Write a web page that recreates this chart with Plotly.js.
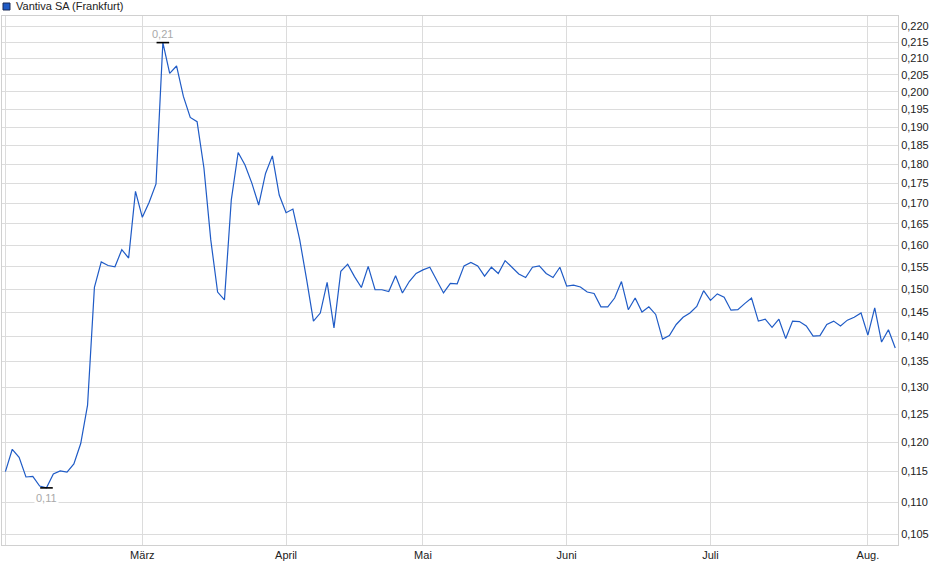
<!DOCTYPE html>
<html>
<head>
<meta charset="utf-8">
<script src="https://cdn.plot.ly/plotly-3.0.1.min.js"></script>
<style>
  html, body { margin: 0; padding: 0; background: #fff; }
  #chart { width: 940px; height: 579px; }
</style>
</head>
<body>
<div id="chart"></div>
<script>
// one value per trading day
const prices = [
  0.1150, 0.1188, 0.1174, 0.1141, 0.1142, 0.1126, 0.1123, 0.1146, 0.1151, 0.1149,
  0.1163, 0.1198, 0.1267, 0.1504, 0.1561, 0.1553, 0.1550, 0.1589, 0.1570, 0.1730,
  0.1666, 0.1703, 0.1749, 0.2149, 0.2055, 0.2077, 0.1987, 0.1927, 0.1915, 0.1790,
  0.1612, 0.1494, 0.1477, 0.1709, 0.1831, 0.1798, 0.1751, 0.1696, 0.1776, 0.1822,
  0.1721, 0.1677, 0.1686, 0.1612, 0.1522, 0.1432, 0.1449, 0.1515, 0.1418, 0.1540,
  0.1556, 0.1528, 0.1504, 0.1551, 0.1499, 0.1499, 0.1495, 0.1530, 0.1492, 0.1517,
  0.1535, 0.1543, 0.1549, 0.1520, 0.1492, 0.1513, 0.1512, 0.1552, 0.1560, 0.1552,
  0.1529, 0.1549, 0.1535, 0.1564, 0.1549, 0.1534, 0.1526, 0.1549, 0.1552, 0.1535,
  0.1526, 0.1549, 0.1507, 0.1509, 0.1505, 0.1494, 0.1491, 0.1462, 0.1462, 0.1481,
  0.1517, 0.1456, 0.1481, 0.1451, 0.1462, 0.1446, 0.1395, 0.1402, 0.1425, 0.1440,
  0.1449, 0.1463, 0.1497, 0.1476, 0.1490, 0.1483, 0.1455, 0.1456, 0.1469, 0.1481,
  0.1432, 0.1436, 0.1419, 0.1436, 0.1396, 0.1432, 0.1431, 0.1422, 0.1401, 0.1402,
  0.1425, 0.1432, 0.1422, 0.1434, 0.1440, 0.1449, 0.1403, 0.1460, 0.1389, 0.1414,
  0.1377
];

// first trading day of each month (index into prices)
const monthStarts = [0, 20, 41, 61, 82, 103, 126];
const monthLabels = ['', 'März', 'April', 'Mai', 'Juni', 'Juli', 'Aug.'];

const priceTicks = [
  0.105, 0.110, 0.115, 0.120, 0.125, 0.130, 0.135, 0.140, 0.145, 0.150, 0.155, 0.160,
  0.165, 0.170, 0.175, 0.180, 0.185, 0.190, 0.195, 0.200, 0.205, 0.210, 0.215, 0.220
];

const seriesName = 'Vantiva SA (Frankfurt)';

const idx = prices.map((_, i) => i);
const hi = prices.indexOf(Math.max(...prices));
const lo = prices.indexOf(Math.min(...prices));
const fmt = v => v.toFixed(2).replace('.', ',');

const FONT = 'Liberation Sans, Arial, sans-serif';

const traces = [
  {
    x: idx,
    y: prices,
    type: 'scatter',
    mode: 'lines',
    line: { color: '#1f5bc6', width: 1.2 },
    hoverinfo: 'skip'
  },
  {
    x: [hi, lo],
    y: [prices[hi], prices[lo]],
    type: 'scatter',
    mode: 'markers',
    marker: { symbol: 'line-ew', size: 9, line: { color: '#000', width: 1.6 } },
    hoverinfo: 'skip'
  }
];

const layout = {
  width: 940,
  height: 579,
  margin: { l: 2, r: 42, t: 16, b: 34 },
  paper_bgcolor: '#fff',
  plot_bgcolor: '#fff',
  showlegend: false,
  separators: ',.',
  font: { family: FONT, size: 11, color: '#222' },
  xaxis: {
    range: [-0.5, 130.4],
    tickmode: 'array',
    tickvals: monthStarts,
    ticktext: monthLabels,
    showgrid: true,
    gridcolor: '#dcdcdc',
    gridwidth: 1,
    zeroline: false,
    showline: true,
    mirror: true,
    linecolor: '#d0d0d0',
    ticks: '',
    tickfont: { family: FONT, size: 11, color: '#222' }
  },
  yaxis: {
    type: 'log',
    side: 'right',
    range: [Math.log10(0.10333), Math.log10(0.2234)],
    tickmode: 'array',
    tickvals: priceTicks,
    tickformat: '.3f',
    showgrid: true,
    gridcolor: '#dcdcdc',
    gridwidth: 1,
    zeroline: false,
    showline: true,
    mirror: true,
    linecolor: '#d0d0d0',
    ticks: '',
    tickfont: { family: FONT, size: 11, color: '#222' }
  },
  shapes: [
    {
      type: 'rect',
      xref: 'paper', yref: 'paper',
      xsizemode: 'pixel', ysizemode: 'pixel',
      xanchor: 0, yanchor: 1,
      x0: 1, x1: 8, y0: 6, y1: 13,
      fillcolor: '#1f5bc6',
      line: { color: '#1a2a55', width: 1 }
    }
  ],
  annotations: [
    {
      xref: 'paper', yref: 'paper',
      x: 0, y: 1,
      xanchor: 'left', yanchor: 'middle',
      xshift: 12, yshift: 10,
      showarrow: false,
      text: seriesName,
      font: { family: FONT, size: 11, color: '#222' }
    },
    {
      x: hi, y: Math.log10(prices[hi]),
      yanchor: 'bottom',
      yshift: 1,
      showarrow: false,
      text: fmt(prices[hi]),
      font: { family: FONT, size: 11, color: '#a9a9a9' }
    },
    {
      x: lo, y: Math.log10(prices[lo]),
      yanchor: 'top',
      yshift: -2,
      showarrow: false,
      text: fmt(prices[lo]),
      bgcolor: '#fff',
      font: { family: FONT, size: 11, color: '#a9a9a9' }
    }
  ]
};

Plotly.newPlot('chart', traces, layout, { staticPlot: true, displayModeBar: false });
</script>
</body>
</html>
